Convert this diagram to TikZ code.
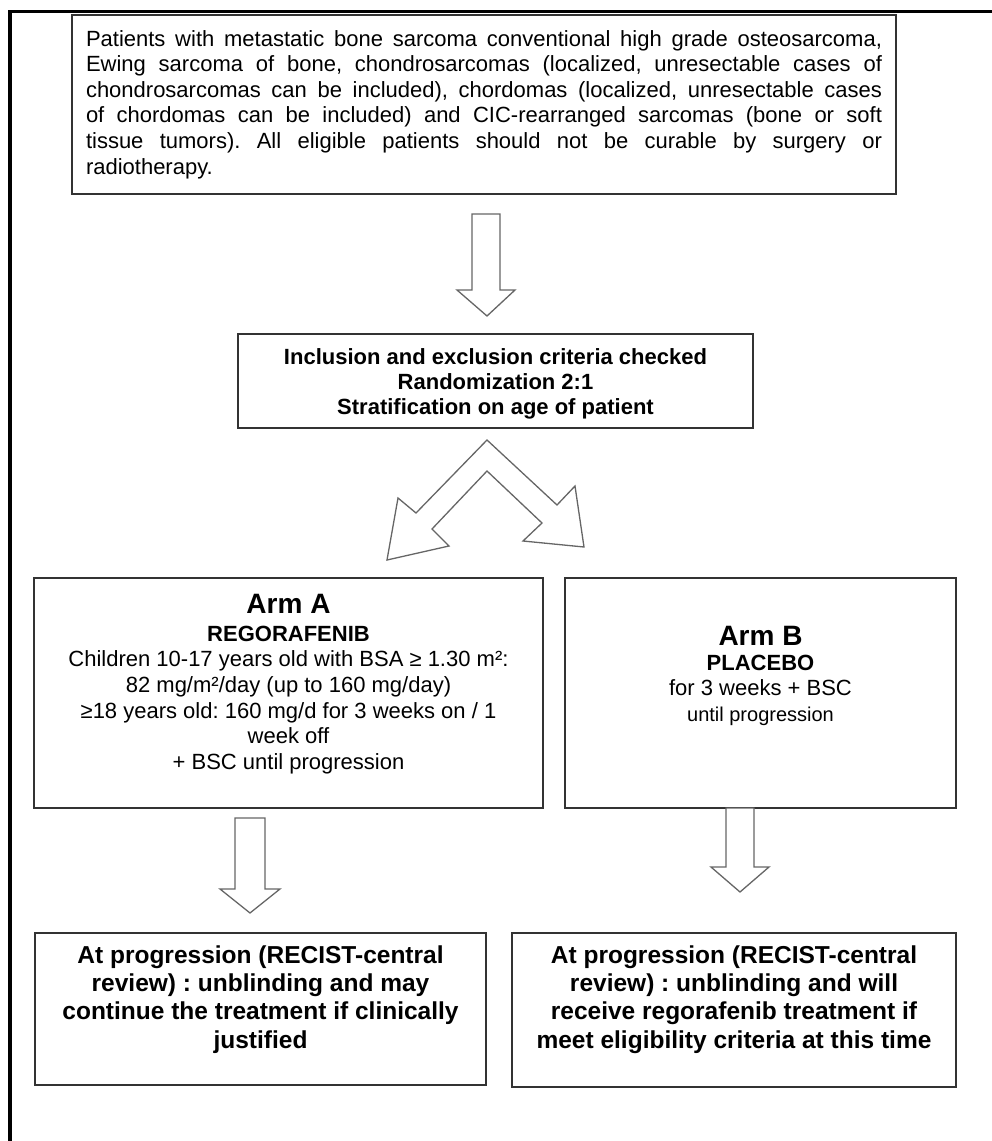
\documentclass[tikz,border=0pt]{standalone}
\usepackage{fontspec}
\setmainfont{Liberation Sans}
\frenchspacing
\usetikzlibrary{positioning}

\begin{document}
\begin{tikzpicture}[x=1pt,y=-1pt,
	box/.style ={draw=black!80, line width=1.7pt, inner sep=0pt, align=center},
	txt/.style ={inner sep=0pt, align=center, font=\fontsize{22}{25.6}\selectfont},
	head/.style ={inner sep=0pt, font=\bfseries\fontsize{28}{30}\selectfont},
	result/.style ={inner sep=0pt, align=center, font=\bfseries\fontsize{24.5}{28.4}\selectfont},
	fat/.style ={draw=black!60, line width=1.3pt, fill=white, line join=miter}]
		\useasboundingbox (0,0) rectangle (992,1141);
		\draw[line width=3.8pt] (10,1141) -- (10,11.5) -- (992,11.5);
		% boxes
		\node[box, text width=796pt, minimum width=824pt, minimum height=179pt, align=justify,
			font=\fontsize{22}{25.6}\selectfont] (pop) at (484,104.5) {Patients with metastatic bone sarcoma conventional high grade osteosarcoma,\linebreak
			Ewing sarcoma of bone, chondrosarcomas (localized, unresectable cases of\linebreak
			chondrosarcomas can be included), chordomas (localized, unresectable cases\linebreak
			of chordomas can be included) and CIC-rearranged sarcomas (bone or soft\linebreak
			tissue tumors). All eligible patients should not be curable by surgery or\linebreak
			radiotherapy.};
		\node[box, minimum width=515pt, minimum height=94pt] (crit) at (495.5,381) {};
		\node[box, minimum width=509pt, minimum height=230pt] (armA) at (288.5,693) {};
		\node[box, minimum width=391pt, minimum height=230pt] (armB) at (760.5,693) {};
		\node[box, minimum width=451pt, minimum height=152pt] (endA) at (260.5,1009) {};
		\node[box, minimum width=444pt, minimum height=154pt] (endB) at (734,1010) {};
		% texts
		\node[txt, font=\bfseries\fontsize{22}{25}\selectfont] (crittxt) at (495.5,384) {Inclusion and exclusion criteria checked\\Randomization 2:1\\Stratification on age of patient};
		\node[head, below=17pt of armA.north] (armAhead) {Arm A};
		\node[txt, below=12pt of armAhead] (armAbody) {\textbf{REGORAFENIB}\\
			Children 10-17 years old with BSA ≥ 1.30 m²:\\
			82 mg/m²/day (up to 160 mg/day)\\
			≥18 years old: 160 mg/d for 3 weeks on / 1\\
			week off\\
			+ BSC until progression};
		\node[head, below=49pt of armB.north] (armBhead) {Arm B};
		\node[txt, below=9pt of armBhead] (armBbody) {\textbf{PLACEBO}\\
			for 3 weeks + BSC\\
			{\fontsize{20}{25}\selectfont until progression}};
		\node[result, below=13pt of endA.north] (endAtxt) {At progression (RECIST-central\\review) : unblinding and may\\continue the treatment if clinically\\justified};
		\node[result, below=13pt of endB.north] (endBtxt) {At progression (RECIST-central\\review) : unblinding and will\\receive regorafenib treatment if\\meet eligibility criteria at this time};
		% arrows
		\draw[fat] (472,214) -- (500,214) -- (500,290) -- (515,290) -- (487,316) -- (457,290) -- (472,290) -- cycle;
		\draw[fat] (487,440) -- (416,513) -- (398,498) -- (387,560) -- (449,546) -- (432,529) -- (487,471)
			-- (542,523) -- (523,541) -- (584,547) -- (575,486) -- (557,505) -- cycle;
		\draw[fat] (235,818) -- (265,818) -- (265,889) -- (280,889) -- (250,913) -- (220,889) -- (235,889) -- cycle;
		\draw[fat] (726,808) -- (754,808) -- (754,867) -- (769,867) -- (740,892) -- (711,867) -- (726,867) -- cycle;
	\end{tikzpicture}
\end{document}
